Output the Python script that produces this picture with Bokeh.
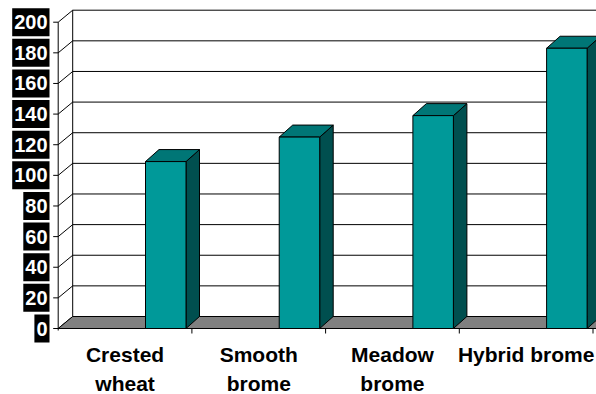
from bokeh.plotting import figure
from bokeh.models import Range1d
from bokeh.core.properties import value
from bokeh.embed import file_html
from bokeh.resources import INLINE

# ---- data ----
categories = ["Crested wheat", "Smooth brome", "Meadow brome", "Hybrid brome"]
category_lines = [["Crested", "wheat"], ["Smooth", "brome"], ["Meadow", "brome"], ["Hybrid brome"]]
values = [109, 125, 139, 183]
y_ticks = [0, 20, 40, 60, 80, 100, 120, 140, 160, 180, 200]
y_tick_labels = [str(v) for v in y_ticks]

# ---- layout constants (pixels -> data) ----
W, H = 596, 394
SLOT_PX = 133.7          # px per category slot
UNIT_PX = 1.5315         # px per value unit
AX_PX, ZERO_PX = 57.7, 328.0

def xd(px):  # horizontal pixel offset -> data units
    return px / SLOT_PX

def yd(px):  # vertical pixel offset -> data units
    return px / UNIT_PX

WALL_DX, WALL_DY = xd(14.5), yd(12)
BAR_DX, BAR_DY = xd(13.5), yd(12)
BAR_LEFT, BAR_W = 0.653, xd(40.5)
YMAX = max(y_ticks)
X_END = len(categories) + 0.6

FRONT = "#009999"
TOP = "#007676"
SIDE = "#004f4f"
FLOOR = "#808080"
FONT = value("Liberation Sans")

p = figure(width=W, height=H, output_backend="svg", toolbar_location=None,
           x_range=Range1d(-AX_PX / SLOT_PX, (W - AX_PX) / SLOT_PX),
           y_range=Range1d((ZERO_PX - H) / UNIT_PX, ZERO_PX / UNIT_PX),
           x_axis_location=None, y_axis_location=None, min_border=0)
p.outline_line_color = None
p.xgrid.visible = False
p.ygrid.visible = False
p.background_fill_color = "white"
p.border_fill_color = "white"

# back wall gridlines
p.multi_line(xs=[[WALL_DX, X_END] for v in y_ticks[1:]],
             ys=[[v + WALL_DY, v + WALL_DY] for v in y_ticks[1:]],
             line_color="black", line_width=1)
# back wall left edge
p.line([WALL_DX, WALL_DX], [WALL_DY, YMAX + WALL_DY], line_color="black", line_width=1)
# diagonals on side wall
p.multi_line(xs=[[0, WALL_DX] for v in y_ticks],
             ys=[[v, v + WALL_DY] for v in y_ticks],
             line_color="black", line_width=1)
# floor
p.patch([0, X_END, X_END + WALL_DX, WALL_DX], [0, 0, WALL_DY, WALL_DY],
        fill_color=FLOOR, line_color="black", line_width=1)
# front vertical axis
p.line([0, 0], [-yd(2), YMAX], line_color="black", line_width=1)
# y ticks
p.multi_line(xs=[[-xd(5), 0] for v in y_ticks], ys=[[v, v] for v in y_ticks],
             line_color="black", line_width=1)
# x axis line
p.line([0, X_END], [0, 0], line_color="black", line_width=1)
# x ticks at slot boundaries
p.multi_line(xs=[[i + 1, i + 1] for i in range(len(categories))],
             ys=[[0, -yd(5)] for i in range(len(categories))],
             line_color="black", line_width=1)

# bars
fx, fy, tx, ty, sx, sy = [], [], [], [], [], []
for i, v in enumerate(values):
    L = i + BAR_LEFT
    R = L + BAR_W
    fx.append([L, R, R, L]); fy.append([0, 0, v, v])
    tx.append([L, R, R + BAR_DX, L + BAR_DX]); ty.append([v, v, v + BAR_DY, v + BAR_DY])
    sx.append([R, R + BAR_DX, R + BAR_DX, R]); sy.append([0, BAR_DY, v + BAR_DY, v])
p.patches(sx, sy, fill_color=SIDE, line_color="black", line_width=1)
p.patches(tx, ty, fill_color=TOP, line_color="black", line_width=1)
p.patches(fx, fy, fill_color=FRONT, line_color="black", line_width=1)

# y labels: black boxes with white bold text
BOX_RIGHT = xd(49 - AX_PX)
box_w = [11.1 * len(t) + 4 for t in y_tick_labels]
p.rect(x=[BOX_RIGHT - xd(w / 2) for w in box_w], y=y_ticks, width=box_w, height=28,
       width_units="screen", height_units="screen", fill_color="black", line_color=None)
p.text(x=[xd(47 - AX_PX)] * len(y_ticks), y=y_ticks, text=y_tick_labels,
       text_color="white", text_font=FONT, text_font_style="bold",
       text_font_size="20px", text_align="right", text_baseline="middle")

# category labels
lx, ly, lt = [], [], []
for i, lines in enumerate(category_lines):
    for j, t in enumerate(lines):
        lx.append(i + 0.5)
        ly.append(-yd(26 + 29 * j))
        lt.append(t)
p.text(x=lx, y=ly, text=lt, text_color="black", text_font=FONT, text_font_style="bold",
       text_font_size="21px", text_align="center", text_baseline="middle")

open("out.html", "w").write(file_html(p, INLINE))
